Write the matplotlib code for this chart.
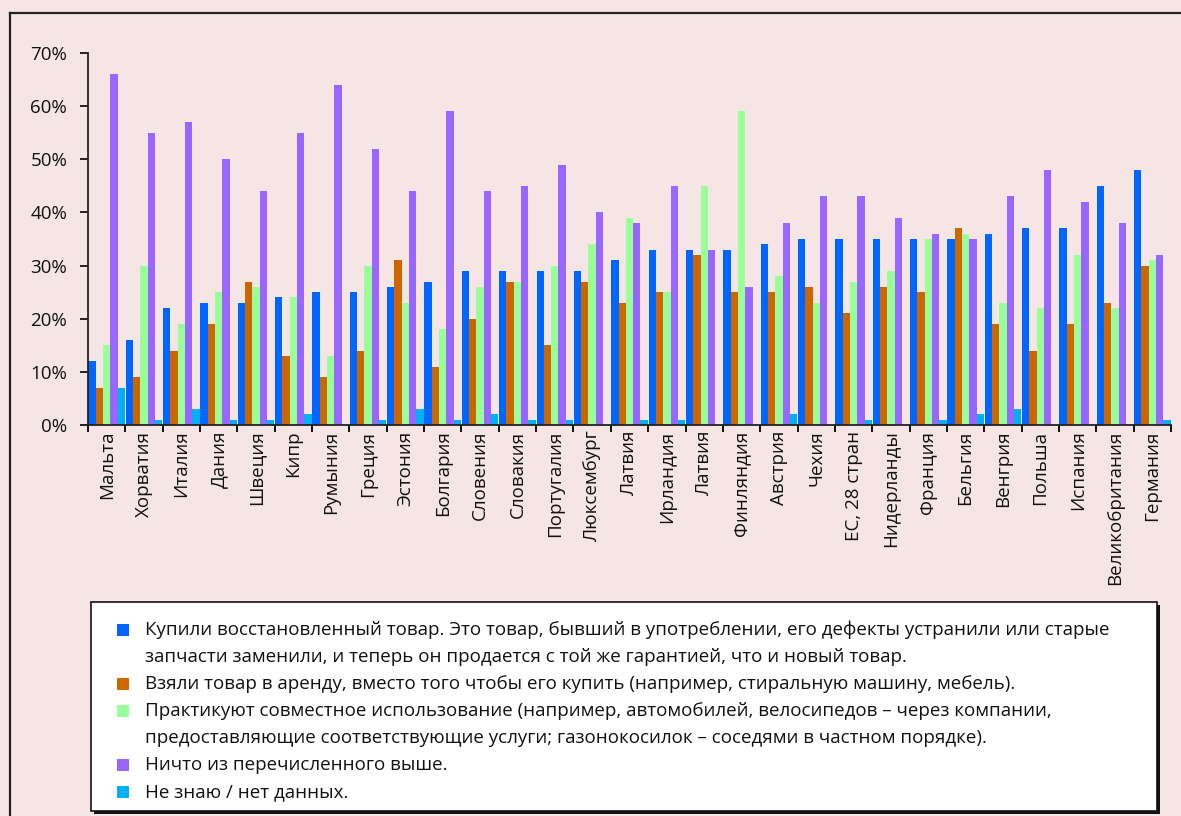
import matplotlib
matplotlib.use("Agg")
import matplotlib.pyplot as plt
import numpy as np
from matplotlib.patches import Rectangle
from matplotlib.lines import Line2D
from matplotlib.ticker import FixedLocator, FuncFormatter

plt.rcParams['font.family'] = ['Open Sans', 'DejaVu Sans']

countries = ["Мальта", "Хорватия", "Италия", "Дания", "Швеция", "Кипр", "Румыния",
             "Греция", "Эстония", "Болгария", "Словения", "Словакия", "Португалия",
             "Люксембург", "Латвия", "Ирландия", "Латвия", "Финляндия", "Австрия",
             "Чехия", "ЕС, 28 стран", "Нидерланды", "Франция", "Бельгия", "Венгрия",
             "Польша", "Испания", "Великобритания", "Германия"]

refurbished = [12, 16, 22, 23, 23, 24, 25, 25, 26, 27, 29, 29, 29, 29, 31, 33, 33, 33,
               34, 35, 35, 35, 35, 35, 36, 37, 37, 45, 48]
rented = [7, 9, 14, 19, 27, 13, 9, 14, 31, 11, 20, 27, 15, 27, 23, 25, 32, 25,
          25, 26, 21, 26, 25, 37, 19, 14, 19, 23, 30]
shared = [15, 30, 19, 25, 26, 24, 13, 30, 23, 18, 26, 27, 30, 34, 39, 25, 45, 59,
          28, 23, 27, 29, 35, 36, 23, 22, 32, 22, 31]
none_of_above = [66, 55, 57, 50, 44, 55, 64, 52, 44, 59, 44, 45, 49, 40, 38, 45, 33, 26,
                 38, 43, 43, 39, 36, 35, 43, 48, 42, 38, 32]
dont_know = [7, 1, 3, 1, 1, 2, 0, 1, 3, 1, 2, 1, 1, 0, 1, 1, 0, 0,
             2, 0, 1, 0, 1, 2, 3, 0, 0, 0, 1]

series = [refurbished, rented, shared, none_of_above, dont_know]
colors = ["#0066FF", "#CC6600", "#99FF99", "#9966FF", "#00B0F0"]
legend_labels = [
    "Купили восстановленный товар. Это товар, бывший в употреблении, его дефекты устранили или старые\n"
    "запчасти заменили, и теперь он продается с той же гарантией, что и новый товар.",
    "Взяли товар в аренду, вместо того чтобы его купить (например, стиральную машину, мебель).",
    "Практикуют совместное использование (например, автомобилей, велосипедов – через компании,\n"
    "предоставляющие соответствующие услуги; газонокосилок – соседями в частном порядке).",
    "Ничто из перечисленного выше.",
    "Не знаю / нет данных.",
]
yticks = [0, 10, 20, 30, 40, 50, 60, 70]

W, H = 1181, 816
bg = "#F5E5E5"
fig = plt.figure(figsize=(W / 100, H / 100), dpi=100, facecolor=bg)

ax = fig.add_axes([88 / W, 1 - 425 / H, (1171 - 88) / W, (425 - 53) / H])
ax.set_facecolor(bg)

n = len(countries)
x = np.arange(n)
bw = 0.196
for i, (vals, c) in enumerate(zip(series, colors)):
    ax.bar(x - 2 * bw + i * bw, vals, width=bw, color=c, edgecolor='none', zorder=2)

ax.set_xlim(-0.5, n - 0.5)
ax.set_ylim(0, 70)
ax.set_yticks(yticks)
ax.yaxis.set_major_formatter(FuncFormatter(lambda v, p: f"{int(v)}%"))
ax.tick_params(axis='y', direction='out', length=6, width=1.3, pad=9,
               labelsize=13.5, colors='#111111')

ax.xaxis.set_major_locator(FixedLocator(np.arange(-0.5, n, 1.0)))
ax.xaxis.set_major_formatter(FuncFormatter(lambda v, p: ""))
ax.xaxis.set_minor_locator(FixedLocator(x))
ax.set_xticks(x, countries, minor=True, rotation=90)
ax.tick_params(axis='x', which='major', direction='out', length=5, width=1.3)
ax.tick_params(axis='x', which='minor', length=0, pad=4, labelsize=13.5,
               colors='#111111')
for lab in ax.get_xticklabels(minor=True):
    lab.set_va('top')

for s in ['top', 'right']:
    ax.spines[s].set_visible(False)
for s in ['left', 'bottom']:
    ax.spines[s].set_linewidth(1.3)
    ax.spines[s].set_color('#222222')


def fx(px):
    return px / W


def fy(py):
    return 1 - py / H


# outer frame (top and left edges visible)
fig.add_artist(Line2D([fx(10), fx(W)], [fy(13), fy(13)], color='#222222', lw=1.6))
fig.add_artist(Line2D([fx(10), fx(10)], [fy(13), fy(H)], color='#222222', lw=1.6))

# legend box with shadow
lx0, lx1, ly0, ly1 = 91, 1157, 602, 811
fig.add_artist(Rectangle((fx(lx0 + 3), fy(ly1 + 3)), fx(lx1 - lx0), (ly1 - ly0) / H,
                         facecolor='#111111', edgecolor='none'))
fig.add_artist(Rectangle((fx(lx0), fy(ly1)), fx(lx1 - lx0), (ly1 - ly0) / H,
                         facecolor='white', edgecolor='#111111', lw=1.2))

row = 0
y_start, dy = 630, 27
for lab, c in zip(legend_labels, colors):
    yc = y_start + row * dy
    fig.add_artist(Rectangle((fx(117), fy(yc + 6)), fx(12), 12 / H,
                             facecolor=c, edgecolor='none'))
    for line in lab.split("\n"):
        fig.text(fx(145), fy(y_start + row * dy), line, ha='left', va='center',
                 fontsize=13.5, color='#111111')
        row += 1

fig.savefig("out.png", dpi=100, facecolor=bg)
